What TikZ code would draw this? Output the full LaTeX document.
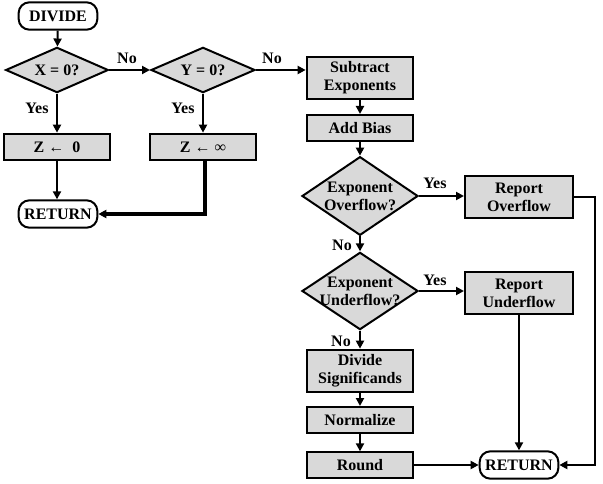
\documentclass[tikz,border=0pt]{standalone}
\usepackage{fontspec}
\setmainfont{Liberation Serif}
\usetikzlibrary{shapes.geometric,shapes.misc,arrows.meta}
\begin{document}
\begin{tikzpicture}[x=0.75pt,y=-0.75pt,
  font=\fontsize{12}{13.5}\selectfont\bfseries,
  base/.style={draw=black,line width=1.5pt,align=center,inner sep=0pt},
  proc/.style={base,rectangle,fill=black!15,minimum width=80pt},
  term/.style={base,rectangle,rounded corners=8pt,fill=white,minimum width=59pt,minimum height=20.5pt},
  dec/.style={base,diamond,fill=black!15,aspect=1.5,inner sep=-9pt},
  conn/.style={line width=1.5pt,-{Triangle[length=6pt,width=6pt]}},
  lbl/.style={inner sep=0pt}]
\useasboundingbox (0,0) rectangle (603,484);
% left part
\node[term] (divide) at (58,16) {DIVIDE};
\node[dec,minimum width=77pt,minimum height=34pt] (x0) at (57,70) {X = 0?};
\node[dec,minimum width=78pt,minimum height=34pt] (y0) at (203,70) {Y = 0?};
\node[proc,minimum height=20pt,minimum width=79pt] (z0) at (57,147) {Z ← \ 0};
\node[proc,minimum height=20pt,minimum width=79pt] (zinf) at (203,147) {Z ← ∞};
\node[term] (ret1) at (58,214) {RETURN};
% right column
\node[proc,minimum height=32pt] (sub) at (360,78) {Subtract\\Exponents};
\node[proc,minimum height=19.5pt] (bias) at (360,128) {Add Bias};
\node[dec,minimum width=87pt,minimum height=59pt] (ovf) at (360,196) {Exponent\\Overflow?};
\node[proc,minimum height=31.5pt,minimum width=81pt] (rovf) at (519,197) {Report\\Overflow};
\node[dec,minimum width=87pt,minimum height=58pt] (unf) at (360,291) {Exponent\\Underflow?};
\node[proc,minimum height=31pt,minimum width=81pt] (runf) at (519,293) {Report\\Underflow};
\node[proc,minimum height=32pt] (divs) at (360,371) {Divide\\Significands};
\node[proc,minimum height=19.5pt] (norm) at (360,420) {Normalize};
\node[proc,minimum height=19pt] (round) at (360,465) {Round};
\node[term] (ret2) at (519,465) {RETURN};
\coordinate (c1) at (205,214);
\coordinate (c2) at (595,197);
\coordinate (c3) at (595,465);
% connectors
\draw[conn] (divide) -- (x0);
\draw[conn] (x0) -- (y0);
\draw[conn] (y0.east) -- (y0.east -| sub.west);
\draw[conn] (x0) -- (z0);
\draw[conn] (y0) -- (zinf);
\draw[conn] (z0.south) -- (z0.south |- ret1.north);
\draw[conn,line width=2.5pt] (zinf.south -| c1) -- (c1) -- (ret1);
\draw[conn] (sub) -- (bias);
\draw[conn] (bias) -- (ovf);
\draw[conn] (ovf.east) -- (ovf.east -| rovf.west);
\draw[conn] (ovf) -- (unf);
\draw[conn] (unf.east) -- (unf.east -| runf.west);
\draw[conn] (unf) -- (divs);
\draw[conn] (divs) -- (norm);
\draw[conn] (norm) -- (round);
\draw[conn] (round) -- (ret2);
\draw[conn] (runf) -- (ret2);
\draw[conn] (rovf.east) -- (c2) -- (c3) -- (ret2);
% labels
\node[lbl] (l1) at (127,58) {No};
\node[lbl] (l2) at (272,58) {No};
\node[lbl] (l3) at (37,108) {Yes};
\node[lbl] (l4) at (183,108) {Yes};
\node[lbl] (l5) at (435,183) {Yes};
\node[lbl] (l6) at (342,245) {No};
\node[lbl] (l7) at (435,280) {Yes};
\node[lbl] (l8) at (341,341) {No};
\end{tikzpicture}
\end{document}
